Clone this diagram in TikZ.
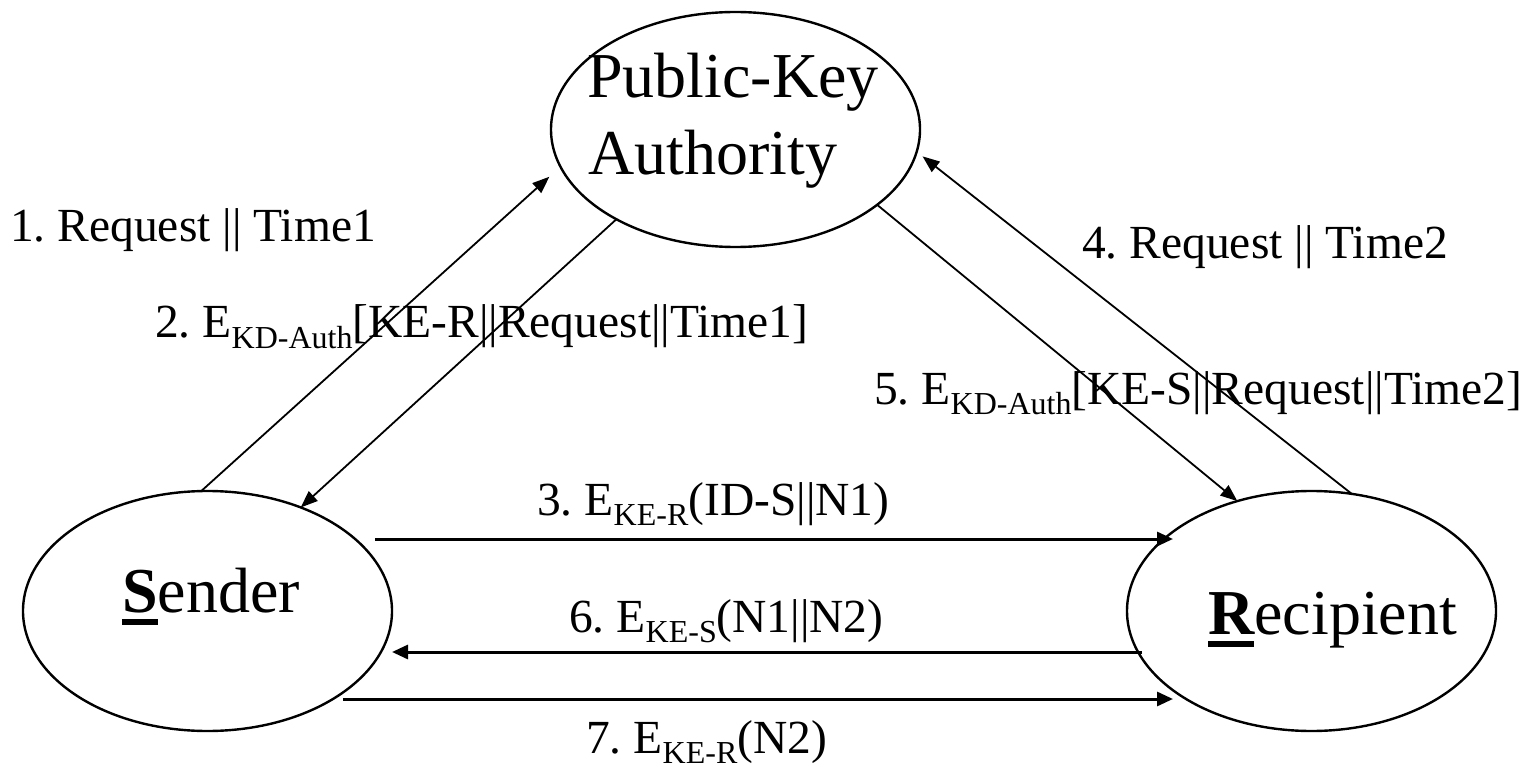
\documentclass[tikz,border=0pt]{standalone}
\usepackage{fontspec}
\setmainfont{Liberation Serif}
\usetikzlibrary{arrows.meta,shapes.geometric}
\frenchspacing

% bold initial letter with a heavy underline bar
\newsavebox\ulletterbox
\newcommand\ulletter[1]{\sbox\ulletterbox{\bfseries #1}\rlap{\rule[-13pt]{\wd\ulletterbox}{6pt}}\usebox\ulletterbox}
% lowered small subscript for key names
\newcommand\lowsub[1]{\raisebox{-10pt}{\fontsize{32}{36}\selectfont #1}}

\begin{document}
\begin{tikzpicture}[x=1pt,y=-1pt,
  party/.style={ellipse, draw, line width=2.4pt, minimum width=369pt,
    minimum height=240pt, inner sep=0pt, outer sep=0pt},
  bigtext/.style={font=\fontsize{64}{77}\selectfont, inner sep=0pt, anchor=base west},
  msg/.style={font=\fontsize{47.5}{56}\selectfont, inner sep=0pt, anchor=base west},
  darr/.style={line width=1.8pt, -{Triangle[length=17pt,width=13pt]}},
  harr/.style={line width=3pt, -{Triangle[length=16pt,width=14pt]}}]

\useasboundingbox (0,0) rectangle (1535,767);

% the three parties
\node[party, minimum height=235pt] (P) at (735.5,129.5) {};
\node[party] (S) at (207.5,611) {};
\node[party] (R) at (1311.5,611) {};

\node[bigtext] (Pline1) at (587,98) {Public-Key};
\node[bigtext] (Pline2) at (588,175) {Authority};
\node[bigtext] (Sname) at (122,612) {\ulletter{S}ender};
\node[bigtext] (Rname) at (1208,634) {\ulletter{R}ecipient};

% exchanges with the authority
\draw[darr] (S.93) -- (P.192) [shorten >=15pt];
\draw[darr] (P.217) -- (S.48);
\draw[darr] (R.71.5) -- (P.-7.5) [shorten >=7.5pt];
\draw[darr] (P.-28) -- (R.124);

% direct exchanges between sender and recipient
\coordinate (m3s) at ([xshift=167.5pt,yshift=72pt]S.center);
\coordinate (m3e) at ([xshift=-138.5pt,yshift=72pt]R.center);
\coordinate (m6s) at ([xshift=-169.5pt,yshift=-41pt]R.center);
\coordinate (m6e) at ([xshift=184.5pt,yshift=-41pt]S.center);
\coordinate (m7s) at ([xshift=135.5pt,yshift=-88pt]S.center);
\coordinate (m7e) at ([xshift=-138.5pt,yshift=-88pt]R.center);
\draw[harr] (m3s) -- (m3e);
\draw[harr] (m6s) -- (m6e);
\draw[harr] (m7s) -- (m7e);

% message labels
\node[msg] (L1) at (10,242) {1. Request || Time1};
\node[msg] (L2) at (155,338) {2. E\lowsub{KD-Auth}[KE-R||Request||Time1]};
\node[msg] (L4) at (1082,259) {4. Request || Time2};
\node[msg] (L5) at (874,404) {5. E\lowsub{KD-Auth}[KE-S||Request||Time2]};
\node[msg] (L3) at (537,515) {3. E\lowsub{KE-R}(ID-S||N1)};
\node[msg] (L6) at (569,632) {6. E\lowsub{KE-S}(N1||N2)};
\node[msg] (L7) at (586,753) {7. E\lowsub{KE-R}(N2)};
\end{tikzpicture}
\end{document}
